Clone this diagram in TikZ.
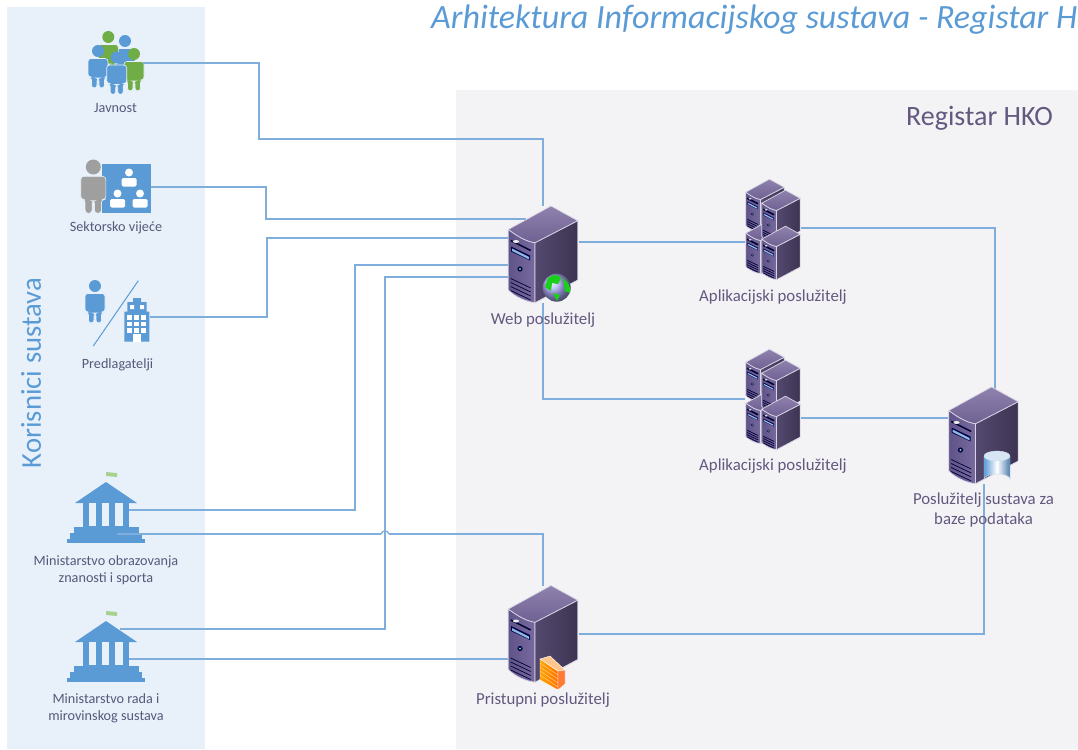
\documentclass[tikz,border=0pt]{standalone}
\usepackage{fontspec}
\setmainfont{Carlito}
\usepackage{tikz}
\usetikzlibrary{calc}

\definecolor{panelblue}{HTML}{E8F1FA}
\definecolor{panelgrey}{HTML}{F3F3F6}
\definecolor{linkblue}{HTML}{7FADDC}
\definecolor{iconblue}{HTML}{5B9BD5}
\definecolor{icongreen}{HTML}{70AD47}
\definecolor{flaggreen}{HTML}{A9D18E}
\definecolor{labelgrey}{HTML}{55597A}
\definecolor{labelpurple}{HTML}{64587F}
\definecolor{srvfront}{HTML}{5F5388}
\definecolor{srvfrontb}{HTML}{786A9F}
\definecolor{srvsidea}{HTML}{54496F}
\definecolor{srvsideb}{HTML}{3D3452}
\definecolor{srvtopa}{HTML}{8F82AE}
\definecolor{srvtopb}{HTML}{6F6192}
\definecolor{srvbay}{HTML}{8FB8DE}
\definecolor{srvedge}{HTML}{D9D6E4}

\tikzset{
  icon/.style={inner sep=0pt, outer sep=0pt},
  link/.style={draw=linkblue, line width=1.3pt},
  lbl/.style={text=labelgrey, font=\fontsize{14.2}{17}\selectfont, align=center},
  srvlbl/.style={text=labelpurple, font=\fontsize{16.8}{20}\selectfont, align=center},
  person/.pic={
    \fill (0,0) circle (6);
    \filldraw[draw=panelblue, line width=.6pt, rounded corners=3pt] (-10,26) -- (-10,7.5) -- (10,7.5) -- (10,26) -- (6.5,26) -- (6.5,37) -- (1,37) -- (1,27) -- (-1,27) -- (-1,37) -- (-6.5,37) -- (-6.5,26) -- cycle;
  },
  bust/.pic={
    \fill[white] (0,0) circle (4);
    \fill[white, rounded corners=1.5pt] (-7.5,14) -- (-7.5,5.5) -- (7.5,5.5) -- (7.5,14) -- cycle;
  },
  ministry/.pic={
    \fill[flaggreen] (0,-40) -- (11,-39) -- (11,-35) -- (0,-36) -- cycle;
    \fill[iconblue] (0,-30) -- (31,-9) -- (-31,-9) -- cycle;
    \fill[iconblue] (-23,-9) rectangle (23,15);
    \fill[panelblue] (-17.5,-9) rectangle (-10,14);
    \fill[panelblue] (-4,-9) rectangle (3,14);
    \fill[panelblue] (9,-9) rectangle (16.5,14);
    \fill[iconblue] (-32.5,15) rectangle (33,21);
    \fill[iconblue] (-36,21) rectangle (36,27);
    \fill[iconblue] (-39.5,27) rectangle (39,31);
  },
  server/.pic={
    \draw[srvedge, line width=.7pt, left color=srvfront, right color=srvfrontb]
      (-34.7,-25) .. controls (-24,-17) and (-16,-13) .. (-8,-11.8) -- (-8,48.2) .. controls (-18,47) and (-28,42) .. (-34.7,35.5) -- cycle;
    \draw[srvedge, line width=.7pt, left color=srvsidea, right color=srvsideb]
      (-8,-11.8) -- (34.7,-33.8) -- (34.7,25.5) -- (-8,48.2) -- cycle;
    \draw[srvedge, line width=.7pt, top color=srvtopa, bottom color=srvtopb]
      (-34.7,-25) -- (8,-48.5) -- (34.7,-33.8) -- (-8,-11.8) .. controls (-16,-13) and (-24,-17) .. (-34.7,-25) -- cycle;
    \draw[black!80!blue, line width=1.5pt] (-32.3,-14) -- (-12.3,-4);
    \fill[black!70!blue] (-32,-8) -- (-13,1) -- (-13,6) -- (-32,-3) -- cycle;
    \fill[srvbay] (-31,-6) -- (-14,2.5) -- (-14,5) -- (-31,-3.5) -- cycle;
    \fill[white!85!gray] (-27,-13) circle [x radius=3, y radius=1.5];
    \fill[black!70!blue] (-23,14.5) circle (2.6);
    \fill[green!60!gray!70!white] (-23,14.5) circle (1.2);
    \foreach \v in {0,4,8,12}
      \draw[black!80!blue, line width=.7pt] (-32.3,24+\v) -- (-12.3,33.5+\v);
  },
  stack/.pic={
    \pic[scale=.553] at (-8,-23) {server};
    \pic[scale=.553] at (-8,18) {server};
    \pic[scale=.553] at (8,-12) {server};
    \pic[scale=.553] at (8,24) {server};
  }
}

\begin{document}
\begin{tikzpicture}[x=1pt, y=-1pt, node distance=40pt]
      \useasboundingbox (0,0) rectangle (1078,749);
      \fill[panelblue] (7,7) rectangle (205,749);
      \fill[panelgrey] (456,90) rectangle (1078,749);

      \begin{scope}
      \clip (0,0) rectangle (1078,749);
      \node [anchor=base west, text=iconblue, inner sep=0pt, font=\fontsize{34}{38}\selectfont\itshape] (title) at (431,29) {Arhitektura Informacijskog sustava - Registar HKO};
      \end{scope}
      \node [rotate=90, text=iconblue, font=\fontsize{28.7}{32}\selectfont] (korisnici) at (31,373) {Korisnici sustava};
      \node [text=labelpurple, font=\fontsize{28}{32}\selectfont] (registar) at (979.5,118) {Registar HKO};

      \node [icon, minimum width=55pt, minimum height=60pt] (javnost) at (115.5,63) {};
      \node [icon, minimum width=70pt, minimum height=50pt] (sektor) at (116,187) {};
      \node [icon, minimum width=65pt, minimum height=60pt] (predlag) at (117.5,317) {};
      \node [icon, minimum width=46pt, minimum height=40pt] (minobr) at (106,510) {};
      \node [icon, minimum width=46pt, minimum height=40pt] (minrad) at (106,659) {};
      \coordinate (minobrb) at (117,534);
      \coordinate (minradb) at (120,629);
      \node [icon, minimum width=71pt, minimum height=97pt] (web) at (543,254.5) {};
      \coordinate (webroof) at (526,219);
      \coordinate (hopa) at (381,534);
      \coordinate (hopb) at (389,534);
      \node [icon, minimum width=56pt, minimum height=102pt] (appa) at (773,229) {};
      \node [icon, minimum width=56pt, minimum height=102pt] (appb) at (773,399) {};
      \node [icon, minimum width=71pt, minimum height=97pt] (baza) at (983.5,435.5) {};
      \node [icon, minimum width=71pt, minimum height=97pt] (pristup) at (543,634) {};

      \pic[iconblue] at (125,41) {person};
      \pic[icongreen] at (108.3,37) {person};
      \pic[iconblue] at (98,51) {person};
      \pic[icongreen] at (134,54) {person};
      \pic[iconblue] at (116.7,57.5) {person};

      \fill[iconblue] (102,163.5) rectangle (151,212.5);
      \pic at (129,172.5) {bust};
      \pic at (117.5,193.5) {bust};
      \pic at (140,193.5) {bust};
      \pic[scale=1.25, color=gray!75] at (93.3,167) {person};

      \pic[iconblue] at (95,286) {person};
      \draw[iconblue, line width=1pt] (138.3,280.7) -- (93.3,346);
      \fill[iconblue] (133,298) rectangle (141,303) (127.3,302) rectangle (146.7,312) (124.3,311.7) rectangle (149.3,341.7);
      \foreach \i in {0,1,2} \foreach \j in {0,1,2}
        \fill[white] (127+7.2*\i,315+6.5*\j) rectangle ++(5,4.5);
      \fill[white] (132.5,334) rectangle (141,341.7);
      \fill[white] (130,305) rectangle ++(4,4) (140,305) rectangle ++(4,4);

      \pic at (106,512) {ministry};
      \pic at (106,651) {ministry};

      \draw[link] (javnost.east) -| (259,139) -| (web.north);
      \draw[link] (sektor.east) -| (266,219) -- (webroof);
      \draw[link] (predlag.east) -| (267,238) -- (web.west |- 0,238);
      \draw[link] (minobr.east) -| (355,265) -- (web.west |- 0,265);
      \draw[link] (minradb) -| (385,277) -- (web.west |- 0,277);
      \draw[link] (minobrb) -- (hopa);
      \draw[link] (hopa) .. controls (382,530) and (388,530) .. (hopb);
      \draw[link] (hopb) -| (pristup.north);
      \draw[link] (minrad.east) -- (pristup.west |- minrad.east);
      \draw[link] (web.east |- 0,242) -- (appa.west |- 0,242);
      \draw[link] (web.south) |- (appb.west);
      \draw[link] (appa.east |- 0,228) -| (995,390);
      \draw[link] (appb.east |- 0,418) -- (baza.west |- 0,418);
      \draw[link] (pristup.east) -| (984,484);

      \pic at (web) {server};
      \pic at (appa) {stack};
      \pic at (appb) {stack};
      \pic at (baza) {server};
      \pic at (pristup) {server};

      \shade[ball color=blue!30!white] (556.7,287.7) circle (14);
      \fill[green!80!black!90!white] (548,278) .. controls (553,274) and (558,274) .. (561,278) -- (558,284) -- (552,283) -- (551,291) -- (545,287) -- cycle;
      \fill[green!80!black!90!white] (563,279) .. controls (568,281) and (571,287) .. (570,293) -- (565,291) -- cycle;
      \fill[green!80!black!90!white] (553,293) -- (560,295) -- (557,301) -- cycle;

      \draw[white!70!iconblue, left color=iconblue, right color=iconblue!80!black, middle color=white] (984,456) -- (984,479) arc [start angle=180, end angle=360, x radius=13, y radius=5] -- (1010,456) -- cycle;
      \draw[white!70!iconblue, fill=iconblue!25!white] (997,456) circle [x radius=13, y radius=5];

      \draw[white, left color=orange!70!yellow, right color=orange!90!red] (540,659) -- (558,671) -- (558,690) -- (540,680) -- cycle;
      \draw[white, fill=orange!45!white] (540,659) -- (550,656) -- (565,670) -- (558,671) -- cycle;
      \draw[white, fill=orange!70!red!80!white] (558,671) -- (565,670) -- (565,684) -- (558,690) -- cycle;
      \foreach \v in {4,8,12,16}
        \draw[white!70!orange, line width=.4pt] (540,659+\v) -- (558,671+\v);

      \node [lbl] (javnostl) [below of=javnost, node distance=45pt] {Javnost};
      \node [lbl] (sektorl) [below of=sektor, node distance=40.5pt] {Sektorsko vijeće};
      \node [lbl] (predlagl) [below of=predlag, node distance=47.5pt] {Predlagatelji};
      \node [lbl] (minobrl) [below of=minobr, node distance=60pt] {Ministarstvo obrazovanja\\znanosti i sporta};
      \node [lbl] (minradl) [below of=minrad, node distance=49pt] {Ministarstvo rada i\\mirovinskog sustava};
      \node [srvlbl] (webl) [below of=web, node distance=65.5pt] {Web poslužitelj};
      \node [srvlbl] (appal) [below of=appa, node distance=68pt] {Aplikacijski poslužitelj};
      \node [srvlbl] (appbl) [below of=appb, node distance=67pt] {Aplikacijski poslužitelj};
      \node [srvlbl] (bazal) [below of=baza, node distance=75pt] {Poslužitelj sustava za\\baze podataka};
      \node [srvlbl] (pristupl) [below of=pristup, node distance=66pt] {Pristupni poslužitelj};
\end{tikzpicture}
\end{document}
